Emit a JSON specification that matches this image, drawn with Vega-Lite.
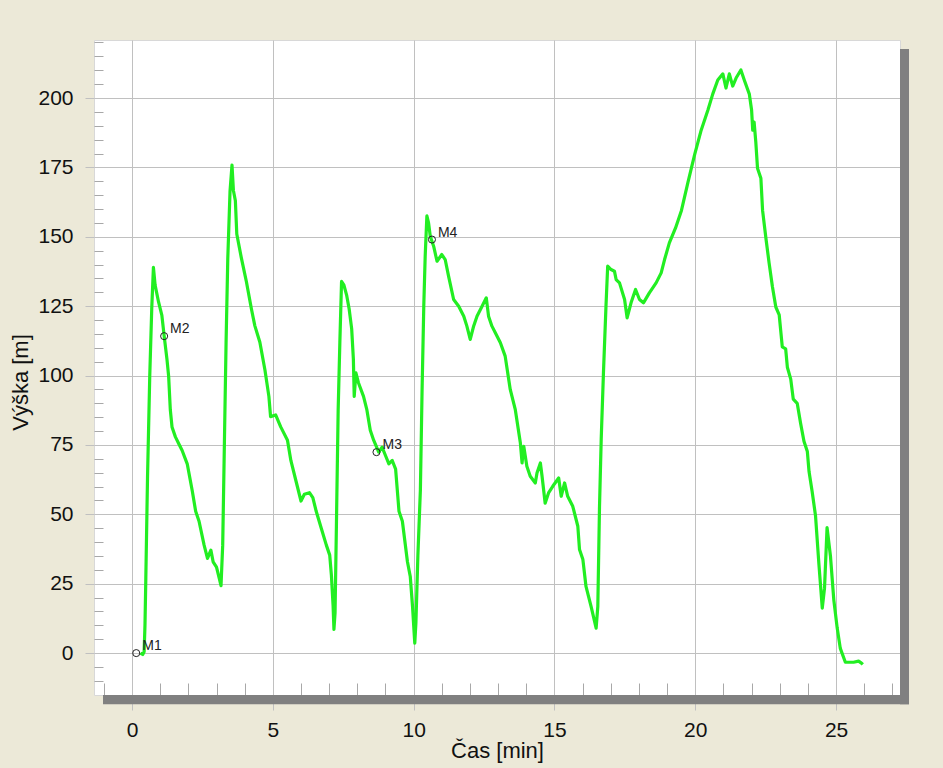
{
  "$schema": "https://vega.github.io/schema/vega-lite/v6.json",
  "width": 806,
  "height": 655,
  "autosize": {"type": "none"},
  "padding": {"left": 94, "top": 40, "right": 43, "bottom": 73},
  "background": "#ece9d8",
  "config": {
    "font": "Liberation Sans",
    "view": {"fill": "white", "stroke": "#d8d8d8"}
  },
  "datasets": {
    "profile": [
      {"t": 0.30, "h": 0}, {"t": 0.38, "h": -0.5}, {"t": 0.43, "h": 0.5}, {"t": 0.46, "h": 10},
      {"t": 0.49, "h": 26.8}, {"t": 0.55, "h": 63}, {"t": 0.63, "h": 100}, {"t": 0.70, "h": 124},
      {"t": 0.76, "h": 139}, {"t": 0.82, "h": 132.6}, {"t": 0.94, "h": 126.6}, {"t": 1.06, "h": 121.7},
      {"t": 1.14, "h": 114.4}, {"t": 1.24, "h": 105.9}, {"t": 1.30, "h": 99.8}, {"t": 1.36, "h": 87.6},
      {"t": 1.42, "h": 81.5}, {"t": 1.54, "h": 77.9}, {"t": 1.66, "h": 75.4}, {"t": 1.78, "h": 73},
      {"t": 1.96, "h": 68.2}, {"t": 2.14, "h": 58.4}, {"t": 2.26, "h": 51.1}, {"t": 2.38, "h": 47.5},
      {"t": 2.56, "h": 38.9}, {"t": 2.68, "h": 34.1}, {"t": 2.80, "h": 37.1}, {"t": 2.88, "h": 32.9},
      {"t": 3.00, "h": 31}, {"t": 3.10, "h": 26.8}, {"t": 3.16, "h": 24.3}, {"t": 3.22, "h": 38.9},
      {"t": 3.28, "h": 75.5}, {"t": 3.34, "h": 112}, {"t": 3.40, "h": 142}, {"t": 3.48, "h": 166.4},
      {"t": 3.55, "h": 175.8}, {"t": 3.60, "h": 166.7}, {"t": 3.67, "h": 163}, {"t": 3.72, "h": 151},
      {"t": 3.88, "h": 142.5}, {"t": 4.06, "h": 133.9}, {"t": 4.24, "h": 124}, {"t": 4.36, "h": 118},
      {"t": 4.54, "h": 112}, {"t": 4.72, "h": 102}, {"t": 4.86, "h": 92.5}, {"t": 4.92, "h": 85.2},
      {"t": 5.10, "h": 85.8}, {"t": 5.28, "h": 81.5}, {"t": 5.52, "h": 76.7}, {"t": 5.64, "h": 69.4},
      {"t": 5.82, "h": 62.1}, {"t": 6.00, "h": 54.8}, {"t": 6.12, "h": 57.2}, {"t": 6.30, "h": 57.8},
      {"t": 6.42, "h": 56}, {"t": 6.54, "h": 51.1}, {"t": 6.72, "h": 45}, {"t": 6.90, "h": 38.9},
      {"t": 7.02, "h": 35.3}, {"t": 7.08, "h": 28}, {"t": 7.14, "h": 17}, {"t": 7.17, "h": 8.5},
      {"t": 7.21, "h": 14.6}, {"t": 7.26, "h": 47.5}, {"t": 7.32, "h": 87.6}, {"t": 7.38, "h": 112},
      {"t": 7.44, "h": 133.9}, {"t": 7.52, "h": 132.7}, {"t": 7.62, "h": 129}, {"t": 7.71, "h": 124},
      {"t": 7.80, "h": 116.8}, {"t": 7.86, "h": 105.9}, {"t": 7.89, "h": 92.5}, {"t": 7.95, "h": 101},
      {"t": 8.04, "h": 97.4}, {"t": 8.22, "h": 92.5}, {"t": 8.34, "h": 87.6}, {"t": 8.46, "h": 80.3},
      {"t": 8.58, "h": 76.7}, {"t": 8.76, "h": 72.4}, {"t": 8.88, "h": 74.2}, {"t": 9.00, "h": 71.2},
      {"t": 9.12, "h": 68.2}, {"t": 9.24, "h": 69.4}, {"t": 9.36, "h": 66.3}, {"t": 9.48, "h": 51.1},
      {"t": 9.60, "h": 47.5}, {"t": 9.78, "h": 32.9}, {"t": 9.88, "h": 27.6}, {"t": 9.96, "h": 16.8},
      {"t": 10.04, "h": 3.6}, {"t": 10.08, "h": 10.8}, {"t": 10.15, "h": 34.9}, {"t": 10.24, "h": 58.9},
      {"t": 10.30, "h": 95}, {"t": 10.36, "h": 125}, {"t": 10.41, "h": 143}, {"t": 10.47, "h": 157.5},
      {"t": 10.53, "h": 155}, {"t": 10.59, "h": 150.2}, {"t": 10.71, "h": 146.6}, {"t": 10.83, "h": 141.2},
      {"t": 11.00, "h": 143.6}, {"t": 11.12, "h": 141.8}, {"t": 11.24, "h": 135.8}, {"t": 11.42, "h": 127.4},
      {"t": 11.60, "h": 125}, {"t": 11.78, "h": 121.4}, {"t": 11.89, "h": 117.8}, {"t": 12.01, "h": 113},
      {"t": 12.13, "h": 117.8}, {"t": 12.25, "h": 121.4}, {"t": 12.43, "h": 125}, {"t": 12.58, "h": 128},
      {"t": 12.66, "h": 121.4}, {"t": 12.78, "h": 117.8}, {"t": 12.90, "h": 115.4}, {"t": 13.08, "h": 111.8},
      {"t": 13.25, "h": 107}, {"t": 13.43, "h": 95}, {"t": 13.61, "h": 87.7}, {"t": 13.79, "h": 75.7},
      {"t": 13.85, "h": 68.5}, {"t": 13.91, "h": 74.5}, {"t": 14.02, "h": 67.3}, {"t": 14.14, "h": 63.7},
      {"t": 14.32, "h": 61.3}, {"t": 14.38, "h": 64.9}, {"t": 14.50, "h": 68.5}, {"t": 14.56, "h": 63.7},
      {"t": 14.67, "h": 54}, {"t": 14.79, "h": 57.7}, {"t": 14.94, "h": 60.1}, {"t": 15.15, "h": 63.1},
      {"t": 15.24, "h": 56.5}, {"t": 15.36, "h": 61.3}, {"t": 15.47, "h": 56.5}, {"t": 15.65, "h": 52.9},
      {"t": 15.83, "h": 45.7}, {"t": 15.89, "h": 37.3}, {"t": 16.01, "h": 33.7}, {"t": 16.12, "h": 24},
      {"t": 16.30, "h": 16.8}, {"t": 16.48, "h": 9}, {"t": 16.54, "h": 16.8}, {"t": 16.60, "h": 52.9},
      {"t": 16.66, "h": 76.9}, {"t": 16.74, "h": 101}, {"t": 16.83, "h": 125}, {"t": 16.89, "h": 139.4},
      {"t": 17.01, "h": 138.2}, {"t": 17.13, "h": 137.6}, {"t": 17.19, "h": 134.6}, {"t": 17.31, "h": 133.4},
      {"t": 17.49, "h": 127.4}, {"t": 17.58, "h": 120.8}, {"t": 17.72, "h": 126.2}, {"t": 17.88, "h": 131},
      {"t": 18.02, "h": 127.4}, {"t": 18.16, "h": 126.2}, {"t": 18.37, "h": 129.8}, {"t": 18.61, "h": 133.4},
      {"t": 18.79, "h": 137}, {"t": 18.91, "h": 141.8}, {"t": 19.08, "h": 147.8}, {"t": 19.30, "h": 153.2},
      {"t": 19.51, "h": 159.5},
      {"t": 19.74, "h": 169.6}, {"t": 19.98, "h": 179.7}, {"t": 20.21, "h": 188.4}, {"t": 20.45, "h": 195.7},
      {"t": 20.62, "h": 201.4}, {"t": 20.80, "h": 206.5}, {"t": 20.98, "h": 208.7}, {"t": 21.09, "h": 203.6},
      {"t": 21.21, "h": 208.7}, {"t": 21.33, "h": 204.3}, {"t": 21.45, "h": 207.2}, {"t": 21.62, "h": 210.1},
      {"t": 21.74, "h": 206.5}, {"t": 21.92, "h": 201.4}, {"t": 22.00, "h": 195.7}, {"t": 22.04, "h": 188.4},
      {"t": 22.09, "h": 191.3}, {"t": 22.15, "h": 184.1}, {"t": 22.21, "h": 174.7}, {"t": 22.33, "h": 171.1},
      {"t": 22.39, "h": 159.5}, {"t": 22.51, "h": 149.4}, {"t": 22.62, "h": 140.7}, {"t": 22.74, "h": 132},
      {"t": 22.86, "h": 124.7}, {"t": 22.98, "h": 121.9}, {"t": 23.09, "h": 110.3}, {"t": 23.21, "h": 109.6},
      {"t": 23.27, "h": 103}, {"t": 23.39, "h": 98.7}, {"t": 23.48, "h": 91.5}, {"t": 23.62, "h": 90},
      {"t": 23.74, "h": 82.8}, {"t": 23.86, "h": 76.3}, {"t": 23.98, "h": 72.6}, {"t": 24.04, "h": 65.4},
      {"t": 24.15, "h": 58.2}, {"t": 24.27, "h": 49.5}, {"t": 24.39, "h": 32.1}, {"t": 24.51, "h": 16.2},
      {"t": 24.59, "h": 23.4}, {"t": 24.68, "h": 45.2}, {"t": 24.80, "h": 35}, {"t": 24.92, "h": 19.1},
      {"t": 25.04, "h": 9}, {"t": 25.15, "h": 1.7}, {"t": 25.33, "h": -3.3}, {"t": 25.62, "h": -3.3},
      {"t": 25.80, "h": -2.9}, {"t": 25.90, "h": -3.6}, {"t": 25.95, "h": -4.1}
    ],
    "markers": [
      {"t": 0.15, "h": 0, "label": "M1"},
      {"t": 1.14, "h": 114.2, "label": "M2"},
      {"t": 8.68, "h": 72.4, "label": "M3"},
      {"t": 10.65, "h": 149, "label": "M4"}
    ]
  },
  "resolve": {"axis": {"x": "independent", "y": "independent"}},
  "layer": [
    {
      "data": {"values": [{}]},
      "mark": {"type": "rect", "color": "#808080"},
      "encoding": {
        "x": {"datum": 27.27, "type": "quantitative", "axis": null},
        "x2": {"datum": 27.59},
        "y": {"datum": 217.7, "type": "quantitative", "axis": null},
        "y2": {"datum": -18.4}
      }
    },
    {
      "data": {"values": [{}]},
      "mark": {"type": "rect", "color": "#808080"},
      "encoding": {
        "x": {"datum": -1.03, "type": "quantitative", "axis": null},
        "x2": {"datum": 27.59},
        "y": {"datum": -15.1, "type": "quantitative", "axis": null},
        "y2": {"datum": -18.4}
      }
    },
    {
      "data": {"name": "profile"},
      "mark": {"type": "line", "color": "#22ee22", "strokeWidth": 3.2, "strokeJoin": "round", "clip": true},
      "encoding": {
        "x": {
          "field": "t", "type": "quantitative",
          "scale": {"domain": [-1.35, 27.27], "nice": false, "zero": false},
          "axis": {
            "orient": "bottom",
            "values": [0, 5, 10, 15, 20, 25],
            "grid": true, "gridColor": "#c0c0c0", "gridWidth": 1,
            "domain": false,
            "tickSize": 15, "tickColor": "#c0c0c0", "tickWidth": 1,
            "labelFontSize": 21, "labelColor": "#111111", "labelPadding": 9,
            "title": "Čas [min]", "titleFontSize": 22, "titleFontWeight": "normal",
            "titleColor": "#111111", "titleBaseline": "alphabetic", "titleY": 62
          }
        },
        "y": {
          "field": "h", "type": "quantitative",
          "scale": {"domain": [-15.1, 220.9], "nice": false, "zero": false},
          "axis": {
            "orient": "left",
            "values": [0, 25, 50, 75, 100, 125, 150, 175, 200],
            "grid": true, "gridColor": "#c0c0c0", "gridWidth": 1,
            "domain": false,
            "tickSize": 9, "tickColor": "#c0c0c0", "tickWidth": 1,
            "labelFontSize": 21, "labelColor": "#111111", "labelPadding": 12,
            "title": "Výška [m]", "titleFontSize": 22, "titleFontWeight": "normal",
            "titleColor": "#111111", "titleBaseline": "alphabetic", "titleX": -67, "titleY": 342
          }
        }
      }
    },
    {
      "data": {"name": "markers"},
      "mark": {"type": "point", "shape": "circle", "filled": false, "size": 50, "stroke": "#222222", "strokeWidth": 1, "opacity": 1},
      "encoding": {
        "x": {
          "field": "t", "type": "quantitative",
          "axis": {
            "orient": "bottom", "offset": -12,
            "values": [-1, 1, 2, 3, 4, 6, 7, 8, 9, 11, 12, 13, 14, 16, 17, 18, 19, 21, 22, 23, 24, 26, 27],
            "grid": false, "domain": false, "labels": false, "title": null,
            "tickSize": 12, "tickColor": "#a8a8a8", "tickWidth": 1
          }
        },
        "y": {
          "field": "h", "type": "quantitative",
          "axis": {
            "orient": "left", "offset": -9,
            "values": [-10, -5, 5, 10, 15, 20, 30, 35, 40, 45, 55, 60, 65, 70, 80, 85, 90, 95, 105, 110, 115, 120, 130, 135, 140, 145, 155, 160, 165, 170, 180, 185, 190, 195, 205, 210, 215, 220],
            "grid": false, "domain": false, "labels": false, "title": null,
            "tickSize": 9, "tickColor": "#a8a8a8", "tickWidth": 1
          }
        }
      }
    },
    {
      "data": {"name": "markers"},
      "mark": {"type": "text", "align": "left", "baseline": "alphabetic", "dx": 6, "dy": -3, "fontSize": 14, "color": "#222222"},
      "encoding": {
        "x": {"field": "t", "type": "quantitative", "axis": null},
        "y": {"field": "h", "type": "quantitative", "axis": null},
        "text": {"field": "label"}
      }
    }
  ]
}
